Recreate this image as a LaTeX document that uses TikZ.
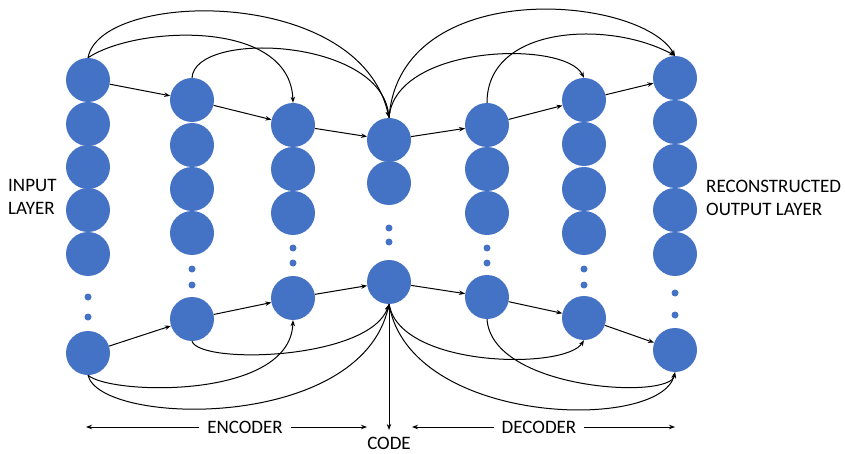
\documentclass[tikz,border=0pt]{standalone}
\usepackage{fontspec}
\setmainfont{Carlito}
\usetikzlibrary{arrows.meta}
\definecolor{nodeblue}{HTML}{4472C4}
\tikzset{
  neuron/.style={circle,fill=nodeblue,draw=none,minimum size=44pt,inner sep=0pt},
  dotmark/.style={circle,fill=nodeblue,draw=none,minimum size=7pt,inner sep=0pt},
  arr/.style={-{Stealth[length=6pt,width=4.5pt]},line width=1pt,black},
  barr/.style={{Stealth[length=6pt,width=4.5pt]}-{Stealth[length=6pt,width=4.5pt]},line width=1pt,black},
  lbl/.style={font=\fontsize{19pt}{23pt}\selectfont,inner sep=0pt,text=black},
}
\begin{document}
\begin{tikzpicture}[x=1pt,y=-1pt]
\useasboundingbox (0,0) rectangle (845,454);
% column 1 (input)
\node[neuron] (t1) at (88,80) {};
\node[neuron] (c12) at (88,124) {};
\node[neuron] (c13) at (88,167) {};
\node[neuron] (c14) at (88,210) {};
\node[neuron] (c15) at (88,254) {};
\node[dotmark] (d11) at (88,297) {};
\node[dotmark] (d12) at (88,317) {};
\node[neuron] (b1) at (88,353) {};
% column 2
\node[neuron] (t2) at (192,100) {};
\node[neuron] (c22) at (192,145) {};
\node[neuron] (c23) at (192,189) {};
\node[neuron] (c24) at (192,233) {};
\node[dotmark] (d21) at (192,269) {};
\node[dotmark] (d22) at (192,285) {};
\node[neuron] (b2) at (192,319) {};
% column 3
\node[neuron] (t3) at (293,125) {};
\node[neuron] (c32) at (293,169) {};
\node[neuron] (c33) at (293,213) {};
\node[dotmark] (d31) at (293,248) {};
\node[dotmark] (d32) at (293,263) {};
\node[neuron] (b3) at (293,298) {};
% column 4 (code)
\node[neuron] (t4) at (389,140) {};
\node[neuron] (c42) at (389,183) {};
\node[dotmark] (d41) at (389,228) {};
\node[dotmark] (d42) at (389,242) {};
\node[neuron] (b4) at (389,282) {};
% column 5
\node[neuron] (t5) at (487,125) {};
\node[neuron] (c52) at (487,169) {};
\node[neuron] (c53) at (487,213) {};
\node[dotmark] (d51) at (487,248) {};
\node[dotmark] (d52) at (487,263) {};
\node[neuron] (b5) at (487,297) {};
% column 6
\node[neuron] (t6) at (584,100) {};
\node[neuron] (c62) at (584,144) {};
\node[neuron] (c63) at (584,189) {};
\node[neuron] (c64) at (584,233) {};
\node[dotmark] (d61) at (584,269) {};
\node[dotmark] (d62) at (584,285) {};
\node[neuron] (b6) at (584,318) {};
% column 7 (output)
\node[neuron] (t7) at (675,78) {};
\node[neuron] (c72) at (675,122) {};
\node[neuron] (c73) at (675,166) {};
\node[neuron] (c74) at (675,210) {};
\node[neuron] (c75) at (675,254) {};
\node[dotmark] (d71) at (675,293) {};
\node[dotmark] (d72) at (675,315) {};
\node[neuron] (b7) at (675,350) {};
% straight chains
\draw[arr] (t1) -- (t2);
\draw[arr] (t2) -- (t3);
\draw[arr] (t3) -- (t4);
\draw[arr] (t4) -- (t5);
\draw[arr] (t5) -- (t6);
\draw[arr] (t6) -- (t7);
\draw[arr] (b1) -- (b2);
\draw[arr] (b2) -- (b3);
\draw[arr] (b3) -- (b4);
\draw[arr] (b4) -- (b5);
\draw[arr] (b5) -- (b6);
\draw[arr] (b6) -- (b7);
% top skip curves
\draw[arr] (t1.north) .. controls (100,-10) and (360,-15) .. (t4.north);
\draw[arr] (t1.north) .. controls (135,26) and (290,18) .. (t3.north);
\draw[arr] (t2.north) .. controls (195,30) and (380,38) .. (t4.north);
\draw[arr] (t4.north) .. controls (400,-25) and (640,-5) .. (t7.north);
\draw[arr] (t4.north) .. controls (395,44) and (565,40) .. (t6.north);
\draw[arr] (t5.north) .. controls (487,25) and (610,20) .. (t7.north);
% bottom skip curves
\draw[arr] (b1.south) .. controls (110,395) and (290,400) .. (b3.south);
\draw[arr] (b1.south) .. controls (100,426) and (360,432) .. (b4.south);
\draw[arr] (b2.south) .. controls (200,365) and (370,360) .. (b4.south);
\draw[arr] (b4.south) .. controls (400,368) and (565,370) .. (b6.south);
\draw[arr] (b4.south) .. controls (410,426) and (660,432) .. (b7.south);
\draw[arr] (b5.south) .. controls (492,390) and (670,400) .. (b7.south);
% labels
\node[lbl,anchor=west,align=left] (inl) at (8,197) {INPUT\\LAYER};
\node[lbl,anchor=west,align=left] (outl) at (706,198) {RECONSTRUCTED\\OUTPUT LAYER};
\node[lbl] (enc) at (245,427) {ENCODER};
\node[lbl] (dec) at (539,427) {DECODER};
\node[lbl] (code) at (389,443) {CODE};
\coordinate (encL) at (86,427);
\coordinate (encR) at (367,427);
\coordinate (decL) at (412,427);
\coordinate (decR) at (675,427);
\coordinate (codeend) at (389,430);
\draw[arr] ([xshift=-8pt]enc.west) -- (encL);
\draw[arr] ([xshift=8pt]enc.east) -- (encR);
\draw[arr] ([xshift=-8pt]dec.west) -- (decL);
\draw[arr] ([xshift=8pt]dec.east) -- (decR);
\draw[barr] (b4.south) -- (codeend);
\end{tikzpicture}
\end{document}
